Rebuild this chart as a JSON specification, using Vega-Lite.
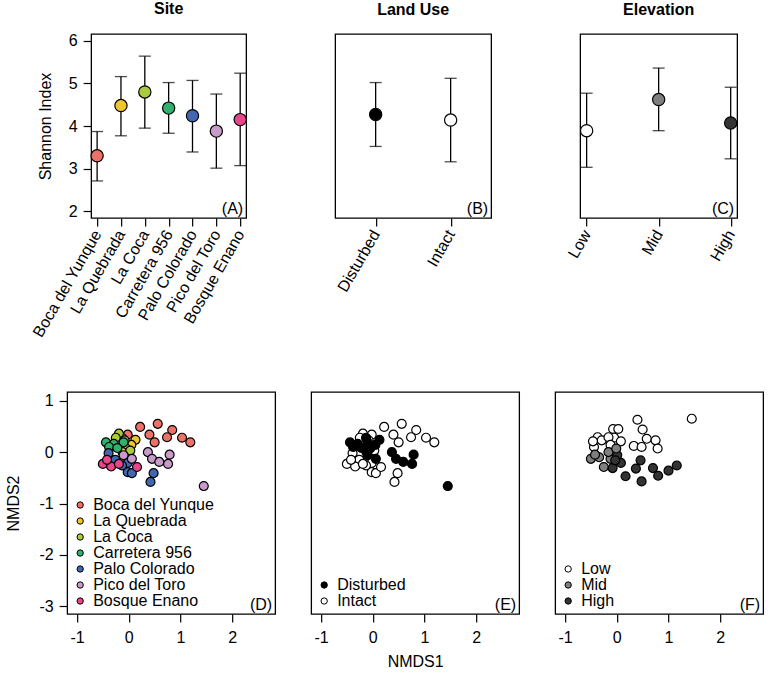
{
  "$schema": "https://vega.github.io/schema/vega-lite/v6.json",
  "padding": {"left": 5, "top": 0, "right": 0, "bottom": 0},
  "background": "white",
  "datasets": {
    "site": [
      {"site": "Boca del Yunque", "mean": 3.30, "lo": 2.71, "hi": 3.87},
      {"site": "La Quebrada", "mean": 4.48, "lo": 3.77, "hi": 5.16},
      {"site": "La Coca", "mean": 4.80, "lo": 3.95, "hi": 5.64},
      {"site": "Carretera 956", "mean": 4.42, "lo": 3.83, "hi": 5.02},
      {"site": "Palo Colorado", "mean": 4.24, "lo": 3.39, "hi": 5.07},
      {"site": "Pico del Toro", "mean": 3.88, "lo": 3.01, "hi": 4.75},
      {"site": "Bosque Enano", "mean": 4.15, "lo": 3.07, "hi": 5.24}
    ],
    "landuse": [
      {"landuse": "Disturbed", "mean": 4.27, "lo": 3.52, "hi": 5.02},
      {"landuse": "Intact", "mean": 4.14, "lo": 3.16, "hi": 5.12}
    ],
    "elev": [
      {"elev": "Low", "mean": 3.89, "lo": 3.03, "hi": 4.77},
      {"elev": "Mid", "mean": 4.62, "lo": 3.89, "hi": 5.36},
      {"elev": "High", "mean": 4.07, "lo": 3.23, "hi": 4.91}
    ],
    "nmds": [
      {"site": "Boca del Yunque", "landuse": "Intact", "x": 0.22, "y": 0.49},
      {"site": "Boca del Yunque", "landuse": "Intact", "x": 0.56, "y": 0.55},
      {"site": "Boca del Yunque", "landuse": "Intact", "x": 0.84, "y": 0.43},
      {"site": "Boca del Yunque", "landuse": "Intact", "x": 0.40, "y": 0.34},
      {"site": "Boca del Yunque", "landuse": "Intact", "x": 0.74, "y": 0.29},
      {"site": "Boca del Yunque", "landuse": "Intact", "x": 0.50, "y": 0.19},
      {"site": "Boca del Yunque", "landuse": "Intact", "x": 1.03, "y": 0.28},
      {"site": "Boca del Yunque", "landuse": "Intact", "x": 1.19, "y": 0.19},
      {"site": "Boca del Yunque", "landuse": "Intact", "x": -0.02, "y": 0.34},
      {"site": "La Quebrada", "landuse": "Disturbed", "x": 0.13, "y": 0.24},
      {"site": "La Quebrada", "landuse": "Disturbed", "x": 0.05, "y": 0.14},
      {"site": "La Quebrada", "landuse": "Disturbed", "x": -0.13, "y": 0.28},
      {"site": "La Quebrada", "landuse": "Disturbed", "x": -0.05, "y": 0.07},
      {"site": "La Quebrada", "landuse": "Disturbed", "x": -0.12, "y": 0.00},
      {"site": "La Coca", "landuse": "Intact", "x": -0.19, "y": 0.36},
      {"site": "La Coca", "landuse": "Intact", "x": 0.03, "y": 0.03},
      {"site": "La Coca", "landuse": "Intact", "x": -0.25, "y": 0.28},
      {"site": "La Coca", "landuse": "Intact", "x": -0.08, "y": 0.23},
      {"site": "Carretera 956", "landuse": "Disturbed", "x": -0.44, "y": 0.19},
      {"site": "Carretera 956", "landuse": "Disturbed", "x": -0.29, "y": 0.16},
      {"site": "Carretera 956", "landuse": "Disturbed", "x": -0.10, "y": 0.19},
      {"site": "Carretera 956", "landuse": "Disturbed", "x": -0.38, "y": 0.10},
      {"site": "Carretera 956", "landuse": "Disturbed", "x": -0.22, "y": 0.08},
      {"site": "Palo Colorado", "landuse": "Intact", "x": -0.39, "y": -0.02},
      {"site": "Palo Colorado", "landuse": "Intact", "x": -0.26, "y": -0.15},
      {"site": "Palo Colorado", "landuse": "Intact", "x": -0.02, "y": -0.21},
      {"site": "Palo Colorado", "landuse": "Intact", "x": -0.02, "y": -0.39},
      {"site": "Palo Colorado", "landuse": "Intact", "x": 0.06, "y": -0.41},
      {"site": "Palo Colorado", "landuse": "Intact", "x": 0.48, "y": -0.41},
      {"site": "Palo Colorado", "landuse": "Intact", "x": 0.42, "y": -0.58},
      {"site": "Palo Colorado", "landuse": "Intact", "x": -0.13, "y": -0.26},
      {"site": "Pico del Toro", "landuse": "Disturbed", "x": 0.37, "y": 0.00},
      {"site": "Pico del Toro", "landuse": "Disturbed", "x": 0.45, "y": -0.13},
      {"site": "Pico del Toro", "landuse": "Disturbed", "x": 0.59, "y": -0.19},
      {"site": "Pico del Toro", "landuse": "Disturbed", "x": 0.79, "y": -0.05},
      {"site": "Pico del Toro", "landuse": "Disturbed", "x": 0.76, "y": -0.23},
      {"site": "Pico del Toro", "landuse": "Disturbed", "x": 1.45, "y": -0.66},
      {"site": "Pico del Toro", "landuse": "Disturbed", "x": 0.06, "y": -0.13},
      {"site": "Pico del Toro", "landuse": "Disturbed", "x": -0.10, "y": -0.06},
      {"site": "Bosque Enano", "landuse": "Intact", "x": -0.50, "y": -0.23},
      {"site": "Bosque Enano", "landuse": "Intact", "x": -0.34, "y": -0.28},
      {"site": "Bosque Enano", "landuse": "Intact", "x": 0.16, "y": -0.29},
      {"site": "Bosque Enano", "landuse": "Intact", "x": -0.19, "y": -0.23},
      {"site": "Bosque Enano", "landuse": "Intact", "x": -0.42, "y": -0.15}
    ],
    "nmdsElev": [
      {"elev": "Low", "x": 0.40, "y": 0.63},
      {"elev": "Low", "x": 1.45, "y": 0.65},
      {"elev": "Low", "x": 0.50, "y": 0.44},
      {"elev": "Low", "x": 0.58, "y": 0.26},
      {"elev": "Low", "x": 0.75, "y": 0.23},
      {"elev": "Low", "x": 0.33, "y": 0.12},
      {"elev": "Low", "x": 0.48, "y": 0.10},
      {"elev": "Low", "x": 0.79, "y": 0.07},
      {"elev": "Low", "x": -0.07, "y": 0.45},
      {"elev": "Low", "x": 0.03, "y": 0.45},
      {"elev": "Low", "x": -0.05, "y": 0.28},
      {"elev": "Low", "x": 0.08, "y": 0.21},
      {"elev": "Low", "x": -0.37, "y": 0.29},
      {"elev": "Low", "x": -0.29, "y": 0.23},
      {"elev": "Low", "x": -0.44, "y": 0.10},
      {"elev": "Low", "x": -0.46, "y": 0.21},
      {"elev": "Low", "x": -0.16, "y": 0.29},
      {"elev": "Low", "x": -0.12, "y": 0.14},
      {"elev": "Mid", "x": -0.50, "y": -0.13},
      {"elev": "Mid", "x": -0.34, "y": -0.10},
      {"elev": "Mid", "x": -0.25, "y": -0.29},
      {"elev": "Mid", "x": -0.12, "y": -0.13},
      {"elev": "Mid", "x": -0.42, "y": -0.05},
      {"elev": "Mid", "x": -0.16, "y": 0.00},
      {"elev": "High", "x": 0.46, "y": -0.16},
      {"elev": "High", "x": 0.08, "y": -0.21},
      {"elev": "High", "x": 0.37, "y": -0.32},
      {"elev": "High", "x": 0.17, "y": -0.47},
      {"elev": "High", "x": 0.48, "y": -0.57},
      {"elev": "High", "x": 0.70, "y": -0.31},
      {"elev": "High", "x": 0.80, "y": -0.46},
      {"elev": "High", "x": 1.00, "y": -0.36},
      {"elev": "High", "x": 1.16, "y": -0.26},
      {"elev": "High", "x": -0.08, "y": -0.31},
      {"elev": "High", "x": 0.01, "y": -0.06},
      {"elev": "High", "x": -0.03, "y": -0.16},
      {"elev": "Mid", "x": -0.01, "y": 0.07}
    ]
  },
  "config": {
    "font": "Liberation Sans",
    "view": {"stroke": "black", "strokeWidth": 1.3},
    "axis": {
      "grid": false, "domain": false, "tickColor": "black", "tickSize": 8, "tickWidth": 1.2,
      "labelColor": "black", "labelFontSize": 16, "labelFont": "Liberation Sans", "labelPadding": 5,
      "labelFlush": false, "labelOverlap": false, "labelBound": false,
      "titleFont": "Liberation Sans", "titleFontSize": 16, "titleFontWeight": "normal", "titleColor": "black"
    },
    "title": {"font": "Liberation Sans", "fontSize": 16, "fontWeight": "bold", "color": "black", "offset": 16},
    "legend": {
      "orient": "bottom-left", "title": null, "labelFontSize": 16, "labelFont": "Liberation Sans", "labelColor": "black",
      "symbolType": "circle", "symbolSize": 40, "symbolStrokeColor": "black", "symbolStrokeWidth": 1,
      "padding": 0, "offset": 5, "rowPadding": 0, "labelOffset": 5
    }
  },
  "spacing": 50,
  "center": true,
  "resolve": {"scale": {"fill": "independent"}, "legend": {"fill": "independent"}},
  "vconcat": [
    {
      "hconcat": [
        {
          "width": 155, "height": 184,
          "title": "Site",
          "layer": [
            {
              "data": {"name": "site"},
              "mark": {"type": "rule", "color": "black", "strokeWidth": 1.3},
              "encoding": {
                "x": {"field": "site", "type": "nominal", "sort": null, "scale": {"type": "point", "padding": 0.25},
                      "axis": {"title": null, "labelAngle": -60, "labelAlign": "right", "labelBaseline": "middle"}},
                "y": {"field": "lo", "type": "quantitative", "scale": {"domain": [1.84, 6.16], "nice": false, "zero": false},
                      "axis": {"title": "Shannon Index", "values": [2, 3, 4, 5, 6], "titlePadding": 15, "labelPadding": 6}},
                "y2": {"field": "hi"}
              }
            },
            {
              "data": {"name": "site"},
              "mark": {"type": "tick", "color": "black", "thickness": 1.3, "size": 12, "orient": "horizontal"},
              "encoding": {"x": {"field": "site", "type": "nominal", "sort": null}, "y": {"field": "lo", "type": "quantitative"}}
            },
            {
              "data": {"name": "site"},
              "mark": {"type": "tick", "color": "black", "thickness": 1.3, "size": 12, "orient": "horizontal"},
              "encoding": {"x": {"field": "site", "type": "nominal", "sort": null}, "y": {"field": "hi", "type": "quantitative"}}
            },
            {
              "data": {"name": "site"},
              "mark": {"type": "circle", "size": 150, "stroke": "black", "strokeWidth": 1.2, "opacity": 1},
              "encoding": {
                "x": {"field": "site", "type": "nominal", "sort": null},
                "y": {"field": "mean", "type": "quantitative"},
                "fill": {"field": "site", "type": "nominal",
                         "scale": {"domain": ["Boca del Yunque", "La Quebrada", "La Coca", "Carretera 956", "Palo Colorado", "Pico del Toro", "Bosque Enano"],
                                   "range": ["#EC7268", "#EFC62F", "#A9CB3C", "#33B06E", "#4267B0", "#C89BCB", "#E8458A"]},
                         "legend": null}
              }
            },
            {
              "data": {"values": [{"lab": "(A)"}]},
              "mark": {"type": "text", "align": "right", "baseline": "alphabetic", "dx": -3, "dy": -4, "fontSize": 16, "color": "black"},
              "encoding": {"x": {"value": "width"}, "y": {"value": "height"}, "text": {"field": "lab"}}
            }
          ]
        },
        {
          "width": 156, "height": 184,
          "title": "Land Use",
          "layer": [
            {
              "data": {"name": "landuse"},
              "mark": {"type": "rule", "color": "black", "strokeWidth": 1.3},
              "encoding": {
                "x": {"field": "landuse", "type": "nominal", "sort": null, "scale": {"type": "point", "padding": 0.54},
                      "axis": {"title": null, "labelAngle": -60, "labelAlign": "right", "labelBaseline": "middle"}},
                "y": {"field": "lo", "type": "quantitative", "scale": {"domain": [1.84, 6.16], "nice": false, "zero": false}, "axis": null},
                "y2": {"field": "hi"}
              }
            },
            {
              "data": {"name": "landuse"},
              "mark": {"type": "tick", "color": "black", "thickness": 1.3, "size": 12, "orient": "horizontal"},
              "encoding": {"x": {"field": "landuse", "type": "nominal", "sort": null}, "y": {"field": "lo", "type": "quantitative"}}
            },
            {
              "data": {"name": "landuse"},
              "mark": {"type": "tick", "color": "black", "thickness": 1.3, "size": 12, "orient": "horizontal"},
              "encoding": {"x": {"field": "landuse", "type": "nominal", "sort": null}, "y": {"field": "hi", "type": "quantitative"}}
            },
            {
              "data": {"name": "landuse"},
              "mark": {"type": "circle", "size": 150, "stroke": "black", "strokeWidth": 1.2, "opacity": 1},
              "encoding": {
                "x": {"field": "landuse", "type": "nominal", "sort": null},
                "y": {"field": "mean", "type": "quantitative"},
                "fill": {"field": "landuse", "type": "nominal", "scale": {"domain": ["Disturbed", "Intact"], "range": ["black", "white"]}, "legend": null}
              }
            },
            {
              "data": {"values": [{"lab": "(B)"}]},
              "mark": {"type": "text", "align": "right", "baseline": "alphabetic", "dx": -3, "dy": -4, "fontSize": 16, "color": "black"},
              "encoding": {"x": {"value": "width"}, "y": {"value": "height"}, "text": {"field": "lab"}}
            }
          ]
        },
        {
          "width": 157, "height": 184,
          "title": "Elevation",
          "layer": [
            {
              "data": {"name": "elev"},
              "mark": {"type": "rule", "color": "black", "strokeWidth": 1.3},
              "encoding": {
                "x": {"field": "elev", "type": "nominal", "sort": null, "scale": {"type": "point", "padding": 0.09},
                      "axis": {"title": null, "labelAngle": -60, "labelAlign": "right", "labelBaseline": "middle"}},
                "y": {"field": "lo", "type": "quantitative", "scale": {"domain": [1.84, 6.16], "nice": false, "zero": false}, "axis": null},
                "y2": {"field": "hi"}
              }
            },
            {
              "data": {"name": "elev"},
              "mark": {"type": "tick", "color": "black", "thickness": 1.3, "size": 12, "orient": "horizontal"},
              "encoding": {"x": {"field": "elev", "type": "nominal", "sort": null}, "y": {"field": "lo", "type": "quantitative"}}
            },
            {
              "data": {"name": "elev"},
              "mark": {"type": "tick", "color": "black", "thickness": 1.3, "size": 12, "orient": "horizontal"},
              "encoding": {"x": {"field": "elev", "type": "nominal", "sort": null}, "y": {"field": "hi", "type": "quantitative"}}
            },
            {
              "data": {"name": "elev"},
              "mark": {"type": "circle", "size": 150, "stroke": "black", "strokeWidth": 1.2, "opacity": 1},
              "encoding": {
                "x": {"field": "elev", "type": "nominal", "sort": null},
                "y": {"field": "mean", "type": "quantitative"},
                "fill": {"field": "elev", "type": "nominal", "scale": {"domain": ["Low", "Mid", "High"], "range": ["white", "#7f7f7f", "#333333"]}, "legend": null}
              }
            },
            {
              "data": {"values": [{"lab": "(C)"}]},
              "mark": {"type": "text", "align": "right", "baseline": "alphabetic", "dx": -3, "dy": -4, "fontSize": 16, "color": "black"},
              "encoding": {"x": {"value": "width"}, "y": {"value": "height"}, "text": {"field": "lab"}}
            }
          ]
        }
      ],
      "bounds": "flush",
      "spacing": 89,
      "resolve": {"scale": {"fill": "independent"}, "legend": {"fill": "independent"}}
    },
    {
      "hconcat": [
        {
          "width": 208, "height": 222,
          "layer": [
            {
              "data": {"name": "nmds"},
              "mark": {"type": "circle", "size": 80, "stroke": "black", "strokeWidth": 1.2, "opacity": 1},
              "encoding": {
                "x": {"field": "x", "type": "quantitative", "scale": {"domain": [-1.19, 2.83], "nice": false, "zero": false},
                      "axis": {"values": [-1, 0, 1, 2], "title": null, "labelPadding": 7, "labelExpr": "'' + datum.value"}},
                "y": {"field": "y", "type": "quantitative", "scale": {"domain": [-3.15, 1.17], "nice": false, "zero": false},
                      "axis": {"values": [-3, -2, -1, 0, 1], "title": "NMDS2", "titlePadding": 17, "labelPadding": 6, "labelExpr": "'' + datum.value"}},
                "fill": {"field": "site", "type": "nominal",
                         "scale": {"domain": ["Boca del Yunque", "La Quebrada", "La Coca", "Carretera 956", "Palo Colorado", "Pico del Toro", "Bosque Enano"],
                                   "range": ["#EC7268", "#EFC62F", "#A9CB3C", "#33B06E", "#4267B0", "#C89BCB", "#E8458A"]},
                         "legend": {"orient": "bottom-left"}}
              }
            },
            {
              "data": {"values": [{"lab": "(D)"}]},
              "mark": {"type": "text", "align": "right", "baseline": "alphabetic", "dx": -3, "dy": -4, "fontSize": 16, "color": "black"},
              "encoding": {"x": {"value": "width"}, "y": {"value": "height"}, "text": {"field": "lab"}}
            }
          ]
        },
        {
          "width": 208, "height": 222,
          "layer": [
            {
              "data": {"name": "nmds"},
              "mark": {"type": "circle", "size": 80, "stroke": "black", "strokeWidth": 1.2, "opacity": 1},
              "encoding": {
                "x": {"field": "x", "type": "quantitative", "scale": {"domain": [-1.19, 2.83], "nice": false, "zero": false},
                      "axis": {"values": [-1, 0, 1, 2], "title": "NMDS1", "titlePadding": 8, "labelPadding": 7, "labelExpr": "'' + datum.value"}},
                "y": {"field": "y", "type": "quantitative", "scale": {"domain": [-3.15, 1.17], "nice": false, "zero": false}, "axis": null},
                "fill": {"field": "landuse", "type": "nominal", "scale": {"domain": ["Disturbed", "Intact"], "range": ["black", "white"]},
                         "legend": {"orient": "bottom-left"}},
                "order": {"field": "landuse", "sort": "descending"}
              }
            },
            {
              "data": {"values": [{"lab": "(E)"}]},
              "mark": {"type": "text", "align": "right", "baseline": "alphabetic", "dx": -3, "dy": -4, "fontSize": 16, "color": "black"},
              "encoding": {"x": {"value": "width"}, "y": {"value": "height"}, "text": {"field": "lab"}}
            }
          ]
        },
        {
          "width": 208, "height": 222,
          "layer": [
            {
              "data": {"name": "nmdsElev"},
              "mark": {"type": "circle", "size": 80, "stroke": "black", "strokeWidth": 1.2, "opacity": 1},
              "encoding": {
                "x": {"field": "x", "type": "quantitative", "scale": {"domain": [-1.19, 2.83], "nice": false, "zero": false},
                      "axis": {"values": [-1, 0, 1, 2], "title": null, "labelPadding": 7, "labelExpr": "'' + datum.value"}},
                "y": {"field": "y", "type": "quantitative", "scale": {"domain": [-3.15, 1.17], "nice": false, "zero": false}, "axis": null},
                "fill": {"field": "elev", "type": "nominal", "scale": {"domain": ["Low", "Mid", "High"], "range": ["white", "#7f7f7f", "#333333"]},
                         "legend": {"orient": "bottom-left"}}
              }
            },
            {
              "data": {"values": [{"lab": "(F)"}]},
              "mark": {"type": "text", "align": "right", "baseline": "alphabetic", "dx": -3, "dy": -4, "fontSize": 16, "color": "black"},
              "encoding": {"x": {"value": "width"}, "y": {"value": "height"}, "text": {"field": "lab"}}
            }
          ]
        }
      ],
      "bounds": "flush",
      "spacing": 36,
      "resolve": {"scale": {"fill": "independent"}, "legend": {"fill": "independent"}}
    }
  ]
}
